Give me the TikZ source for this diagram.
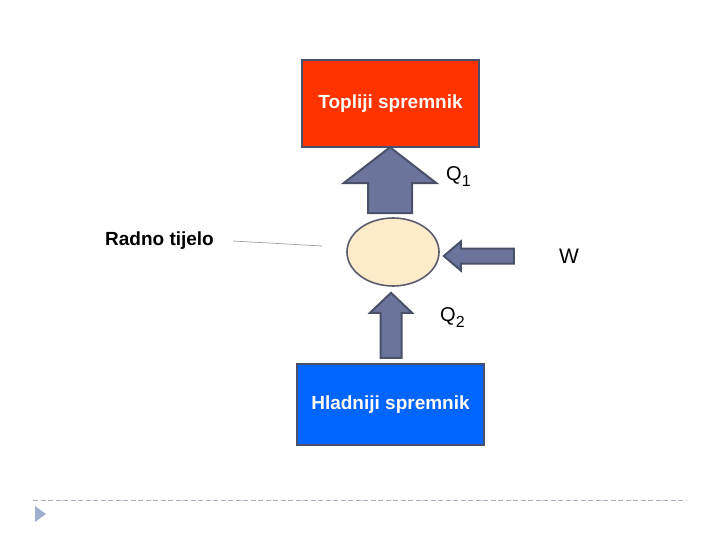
\documentclass[tikz,border=0pt]{standalone}
\usepackage{fontspec}
\setmainfont{Liberation Sans}
\usetikzlibrary{calc,shapes.geometric}

\definecolor{hotred}{HTML}{FF3300}
\definecolor{coldblue}{HTML}{0066FF}
\definecolor{boxedge}{HTML}{4A4F6A}
\definecolor{arrfill}{HTML}{6B759B}
\definecolor{arredge}{HTML}{4A5068}
\definecolor{bodyfill}{HTML}{FDEBC9}
\definecolor{bodyedge}{HTML}{5C5C6E}
\definecolor{slideline}{HTML}{A8B0C0}
\definecolor{bullet}{HTML}{9DB0CE}

% block arrow: tip, rotation, length, head width, shaft width, head length
\newcommand{\blockarrow}[6]{%
  \begin{scope}[shift={(#1)}, rotate=#2]
    \draw[blockarr] (0,0) -- (-#6,#4/2) -- (-#6,#5/2) -- (-#3,#5/2)
      -- (-#3,-#5/2) -- (-#6,-#5/2) -- (-#6,-#4/2) -- cycle;
  \end{scope}}
% lowered subscript as on the slide
\newcommand{\qsub}[1]{{\fontsize{16}{18}\selectfont\raisebox{-6pt}{#1}}}

\begin{document}
\begin{tikzpicture}[
  x=1pt, y=-1pt,
  % === Node styles ===
  tank/.style={
    draw=boxedge, line width=2.5pt,
    inner sep=0pt, text=white!96!orange,
    font=\fontsize{19}{22}\selectfont\bfseries
  },
  body/.style={
    ellipse, draw=bodyedge, fill=bodyfill, line width=1.6pt,
    minimum width=92pt, minimum height=68pt, inner sep=0pt
  },
  qlabel/.style={font=\fontsize{20}{24}\selectfont, inner sep=0pt},
  % === Arrow styles ===
  blockarr/.style={draw=arredge, fill=arrfill, line width=2pt, line join=miter},
  pointer/.style={draw=gray!75, line width=0.7pt},
]
\useasboundingbox (0,0) rectangle (720,540);

% =============================================
% Reservoirs
% =============================================
\node[tank, fill=hotred, minimum width=177pt, minimum height=87pt] (hot) at (390.5,103.5) {Topliji spremnik};
\node[tank, fill=coldblue, minimum width=187pt, minimum height=81pt] (cold) at (390.5,404.5) {Hladniji spremnik};

% =============================================
% Working body
% =============================================
\node[body] (radno) at (393,252) {};
\node[font=\fontsize{19}{22}\selectfont\bfseries, inner sep=3pt] (radnolbl) at (159.5,241) {Radno tijelo};
\coordinate (ptr) at (322,246);
\draw[pointer] ([xshift=16pt]radnolbl.east) -- (ptr);

% =============================================
% Heat and work arrows
% =============================================
\coordinate (q1tip) at ($(hot.south)+(-0.5,-1)$);
\blockarrow{q1tip}{90}{66}{93}{44}{36}
\coordinate (wtip) at ($(radno.east)+(4,4)$);
\blockarrow{wtip}{180}{70}{29}{15}{17}
\coordinate (q2tip) at ($(radno.south)+(-2,6)$);
\blockarrow{q2tip}{90}{65}{42}{21}{20}

\node[qlabel, anchor=west] (q1) at (446,177) {Q\qsub{1}};
\node[qlabel, anchor=west] (q2) at (440,318) {Q\qsub{2}};
\node[qlabel, font=\fontsize{21}{24}\selectfont] (w) at (569,256) {W};

% =============================================
% Slide decoration
% =============================================
\draw[slideline, line width=0.9pt, dash pattern=on 5pt off 2.5pt] (33,500) -- (687,500);
\fill[bullet] (35,506) -- (35,522) -- (46,514) -- cycle;

\end{tikzpicture}
\end{document}
